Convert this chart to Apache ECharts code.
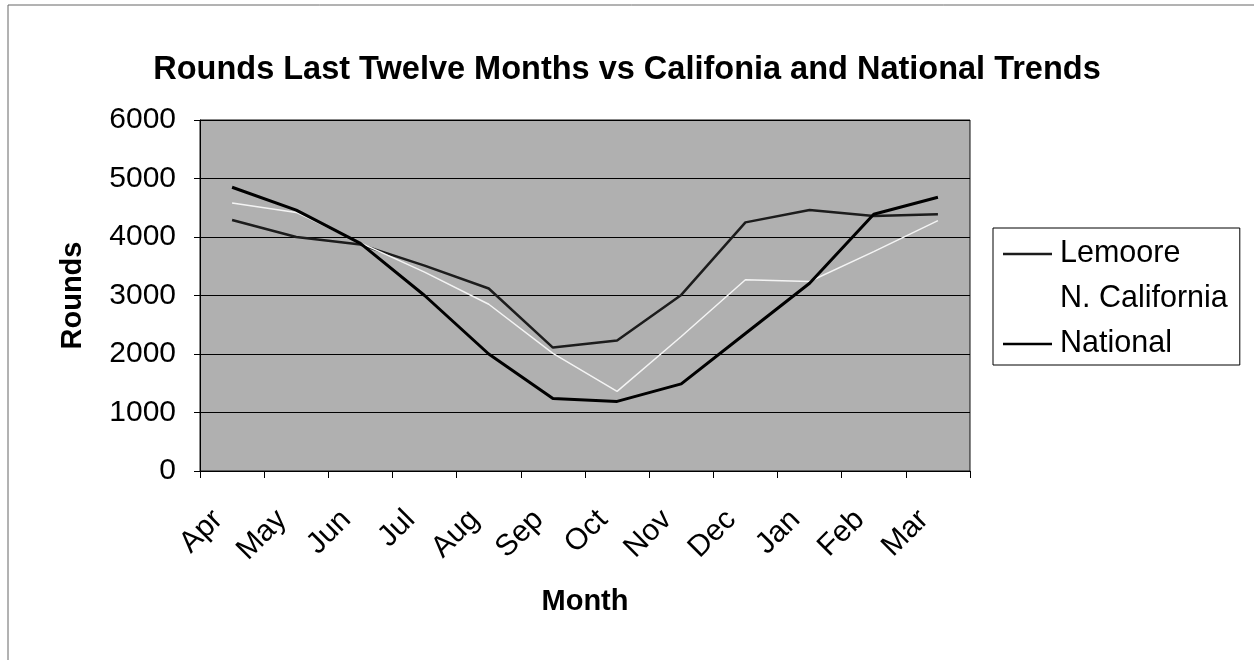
<!DOCTYPE html>
<html>
<head>
<meta charset="utf-8">
<title>Rounds Last Twelve Months</title>
<script src="https://cdn.jsdelivr.net/npm/echarts@6/dist/echarts.min.js"></script>
<style>
  html, body { margin: 0; padding: 0; background: #ffffff; }
  #chart { width: 1254px; height: 660px; }
</style>
</head>
<body>
<div id="chart"></div>
<script>
// Monthly rounds played, April through March
const months = ['Apr', 'May', 'Jun', 'Jul', 'Aug', 'Sep', 'Oct', 'Nov', 'Dec', 'Jan', 'Feb', 'Mar'];
const lemoore = [4290, 4000, 3870, 3510, 3120, 2110, 2230, 3010, 4250, 4460, 4360, 4390];
const nCalifornia = [4580, 4420, 3900, 3400, 2850, 2010, 1360, 2300, 3270, 3240, 3750, 4280];
const national = [4850, 4460, 3890, 3000, 2000, 1240, 1190, 1490, 2350, 3210, 4390, 4680];
const yTicks = { min: 0, max: 6000, interval: 1000 };

const FONT = '"Liberation Sans", Arial, sans-serif';

const chart = echarts.init(document.getElementById('chart'), null, { renderer: 'canvas' });

chart.setOption({
  backgroundColor: '#ffffff',
  animation: false,
  textStyle: { fontFamily: FONT, color: '#000' },
  graphic: [{
    type: 'rect',
    shape: { x: 8, y: 5, width: 1300, height: 700 },
    style: { fill: 'none', stroke: '#666', lineWidth: 1 },
    silent: true
  }],
  title: {
    text: 'Rounds Last Twelve Months vs Califonia and National Trends',
    left: 'center',
    top: 49,
    textStyle: { fontFamily: FONT, fontSize: 32.5, fontWeight: 'bold', color: '#000' }
  },
  legend: {
    orient: 'vertical',
    left: 993,
    top: 228,
    padding: [10, 12, 5, 10],
    icon: 'rect',
    itemWidth: 49,
    itemHeight: 2.5,
    itemGap: 13,
    backgroundColor: '#ffffff',
    borderColor: '#000',
    borderWidth: 1,
    borderRadius: 0,
    textStyle: { fontFamily: FONT, fontSize: 30.5, lineHeight: 32, color: '#000', padding: [0, 0, 0, 3] },
    data: ['Lemoore', 'N. California', 'National']
  },
  grid: {
    left: 200,
    right: 284,
    top: 120,
    bottom: 189,
    show: true,
    backgroundColor: '#b0b0b0',
    borderColor: '#111',
    borderWidth: 1
  },
  xAxis: {
    type: 'category',
    data: months,
    boundaryGap: true,
    name: 'Month',
    nameLocation: 'middle',
    nameGap: 116,
    nameTextStyle: { fontFamily: FONT, fontSize: 29, fontWeight: 'bold', color: '#000' },
    axisLine: { show: true, lineStyle: { color: '#000', width: 1 } },
    axisTick: { show: true, length: 7, inside: false, alignWithLabel: false, lineStyle: { color: '#000' } },
    axisLabel: {
      rotate: 45,
      interval: 0,
      margin: 30,
      padding: [0, 20, 0, 0],
      fontFamily: FONT,
      fontSize: 30,
      color: '#000'
    },
    splitLine: { show: false }
  },
  yAxis: {
    type: 'value',
    min: yTicks.min,
    max: yTicks.max,
    interval: yTicks.interval,
    name: 'Rounds',
    nameLocation: 'middle',
    nameRotate: 90,
    nameGap: 113,
    nameTextStyle: { fontFamily: FONT, fontSize: 29, fontWeight: 'bold', color: '#000' },
    axisLine: { show: true, lineStyle: { color: '#000', width: 1 } },
    axisTick: { show: true, length: 6, inside: false, lineStyle: { color: '#000' } },
    axisLabel: {
      margin: 24,
      fontFamily: FONT,
      fontSize: 30,
      color: '#000',
      formatter: (v) => String(v)
    },
    splitLine: { show: true, lineStyle: { color: '#000', width: 1 } }
  },
  series: [
    {
      name: 'Lemoore',
      type: 'line',
      data: lemoore,
      symbol: 'none',
      lineStyle: { color: '#1c1c1c', width: 2.5 },
      itemStyle: { color: '#1c1c1c' }
    },
    {
      name: 'N. California',
      type: 'line',
      data: nCalifornia,
      symbol: 'none',
      lineStyle: { color: '#f4f4f4', width: 1.5 },
      itemStyle: { color: '#ffffff' }
    },
    {
      name: 'National',
      type: 'line',
      data: national,
      symbol: 'none',
      lineStyle: { color: '#000000', width: 3 },
      itemStyle: { color: '#000000' }
    }
  ]
});
</script>
</body>
</html>
